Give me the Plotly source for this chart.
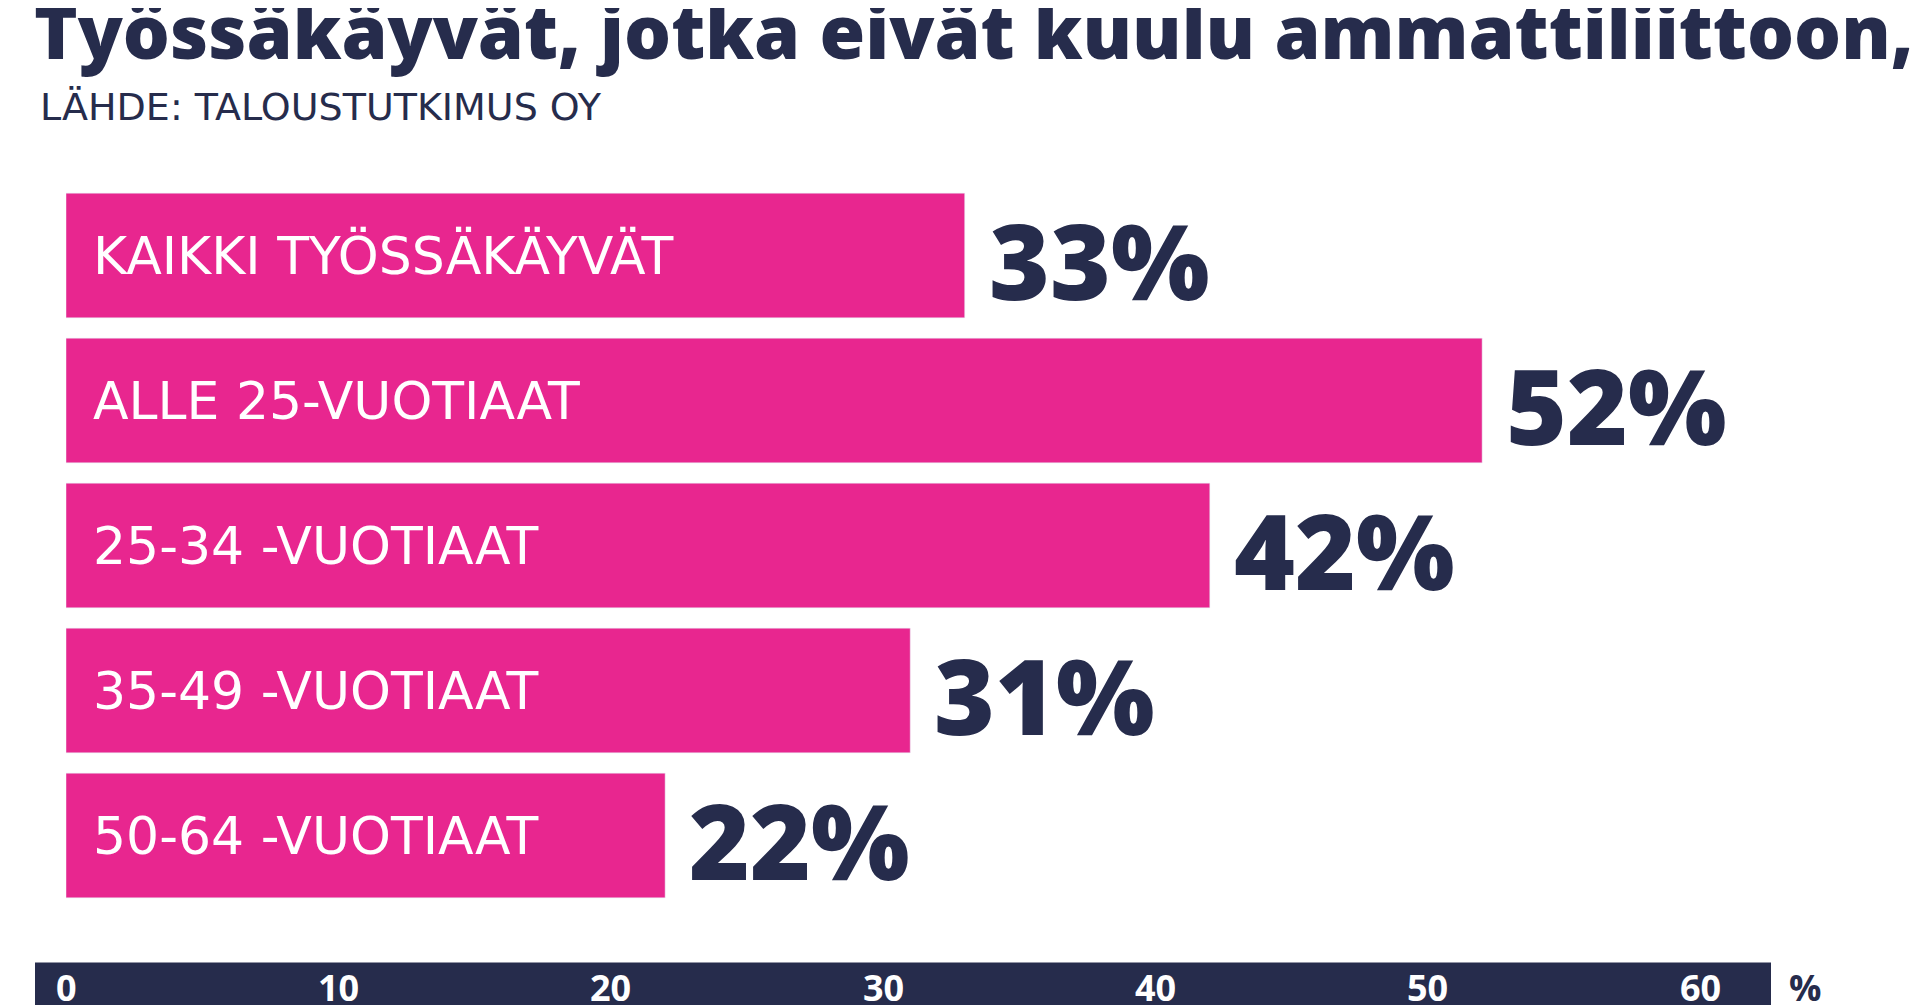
import plotly.graph_objects as go

categories = ["KAIKKI TYÖSSÄKÄYVÄT", "ALLE 25-VUOTIAAT", "25-34 -VUOTIAAT", "35-49 -VUOTIAAT", "50-64 -VUOTIAAT"]
values = [33, 52, 42, 31, 22]
tick_values = [0, 10, 20, 30, 40, 50, 60]
title = "Työssäkäyvät, jotka eivät kuulu ammattiliittoon, %"
subtitle = "LÄHDE: TALOUSTUTKIMUS OY"

NAVY = "#262c4c"
PINK = "#e8268f"
FONT = "Open Sans"

W, H = 1920, 1005
ml, mr, mt, mb = 58, 228, 175, 104.5
ph = H - mt - mb
pw = W - ml - mr

def py(pix):
    return (H - mb - pix) / ph

def px(pix):
    return (pix - ml) / pw

ypos = list(range(len(categories)))
fig = go.Figure(go.Bar(x=values, y=ypos, orientation="h", marker_color=PINK,
                       width=0.86, hoverinfo="skip"))

ann = []
for i, (c, v) in enumerate(zip(categories, values)):
    ann.append(dict(x=0.92, y=i, text=c, xanchor="left", yanchor="middle", showarrow=False,
                    font=dict(family="DejaVu Sans", size=52, color="white")))
    ann.append(dict(x=v, y=i, text=f"{v}%", xanchor="left", yanchor="middle", showarrow=False,
                    xshift=22, yshift=-4, font=dict(family=FONT, size=104, color=NAVY, weight=900)))
for t in tick_values:
    ann.append(dict(x=t, y=py(980), yref="paper", text=str(t), xanchor="center", yanchor="middle",
                    showarrow=False, font=dict(family=FONT, size=36, color="white", weight=700)))
ann.append(dict(x=px(1797), y=py(980), xref="paper", yref="paper", text="%", xanchor="center",
                yanchor="middle", showarrow=False, font=dict(family=FONT, size=36, color=NAVY, weight=700)))
ann.append(dict(x=px(24), y=py(22), xref="paper", yref="paper", text=title, xanchor="left",
                yanchor="middle", showarrow=False, font=dict(family=FONT, size=74, color=NAVY, weight=800)))
ann.append(dict(x=px(30), y=py(99), xref="paper", yref="paper", text=subtitle, xanchor="left",
                yanchor="middle", showarrow=False, font=dict(family="DejaVu Sans", size=38, color=NAVY)))

fig.update_layout(
    width=W, height=H, margin=dict(l=ml, r=mr, t=mt, b=mb),
    plot_bgcolor="white", paper_bgcolor="white", showlegend=False,
    xaxis=dict(range=[0, 60], visible=False),
    yaxis=dict(range=[4.5, -0.5], visible=False),
    annotations=ann,
    shapes=[dict(type="rect", xref="paper", yref="paper", x0=px(27), x1=px(1763),
                 y0=py(955), y1=py(1010), fillcolor=NAVY, line_width=0, layer="below")],
)
fig.write_html("out.html")
